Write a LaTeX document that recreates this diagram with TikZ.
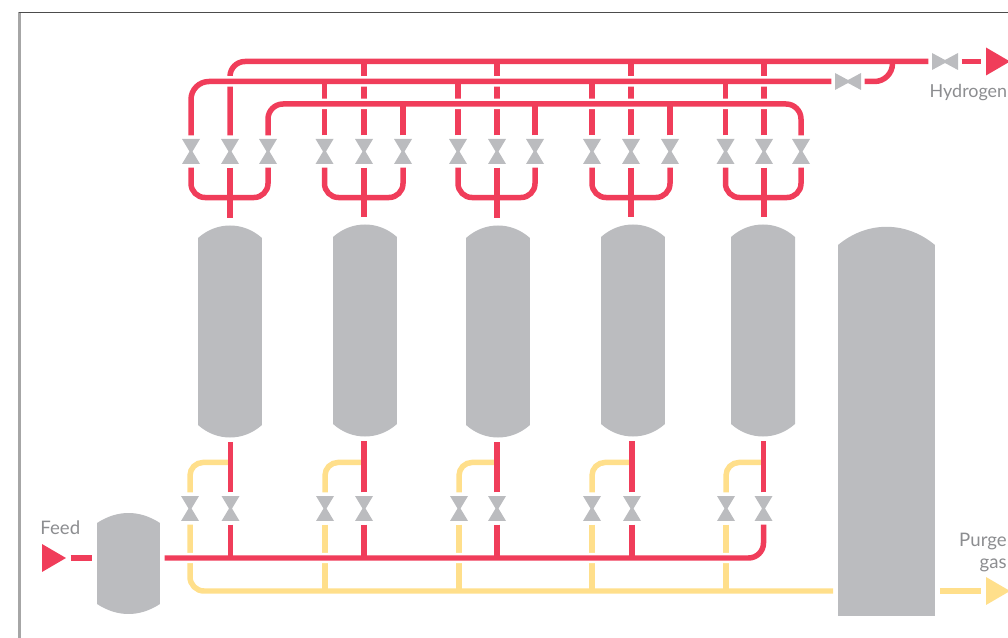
\documentclass[tikz,border=0pt]{standalone}
\usepackage{fontspec}
\setmainfont{Lato}
\usetikzlibrary{calc}
\definecolor{pipered}{HTML}{F03D5A}
\definecolor{pipeyellow}{HTML}{FFDF8B}
\definecolor{steel}{HTML}{BBBCBF}
\definecolor{labelgrey}{HTML}{8C8D90}
\tikzset{
  redpipe/.style={draw=pipered,line width=.11cm},
  yellowpipe/.style={draw=pipeyellow,line width=.11cm},
  halo/.style={preaction={draw=white,line width=.21cm}},
  stem/.style={redpipe,shorten >=1.7pt},
  valve/.style={minimum width=.36cm,minimum height=.5cm,inner sep=0pt,outer sep=2pt,
    path picture={\fill[steel] (path picture bounding box.north west) -- (path picture bounding box.north east)
      -- ($(path picture bounding box.center)+(.03cm,0)$) -- (path picture bounding box.south east)
      -- (path picture bounding box.south west) -- ($(path picture bounding box.center)+(-.03cm,0)$) -- cycle;}},
  hvalve/.style={minimum width=.52cm,minimum height=.34cm,inner sep=0pt,outer sep=2pt,
    path picture={\fill[steel] (path picture bounding box.north west) -- (path picture bounding box.south west)
      -- ($(path picture bounding box.center)+(0,-.03cm)$) -- (path picture bounding box.south east)
      -- (path picture bounding box.north east) -- ($(path picture bounding box.center)+(0,.03cm)$) -- cycle;}},
  vessel/.style={minimum width=1.28cm,minimum height=4.26cm,inner sep=0pt,outer sep=2.2pt,
    path picture={\fill[steel] ($(path picture bounding box.north west)+(0,-.26cm)$) to[bend left=42]
      ($(path picture bounding box.north east)+(0,-.26cm)$) -- ($(path picture bounding box.south east)+(0,.26cm)$) to[bend left=42]
      ($(path picture bounding box.south west)+(0,.26cm)$) -- cycle;}},
  drum/.style={minimum width=1.26cm,minimum height=2.02cm,inner sep=0pt,outer sep=2.6pt,
    path picture={\fill[steel] ($(path picture bounding box.north west)+(0,-.2cm)$) to[bend left=33]
      ($(path picture bounding box.north east)+(0,-.2cm)$) -- ($(path picture bounding box.south east)+(0,.2cm)$) to[bend left=33]
      ($(path picture bounding box.south west)+(0,.2cm)$) -- cycle;}},
  tower/.style={minimum width=1.94cm,minimum height=7.8cm,inner sep=0pt,outer sep=2.8pt,
    path picture={\fill[steel] ($(path picture bounding box.north west)+(0,-.38cm)$) to[bend left=40]
      ($(path picture bounding box.north east)+(0,-.38cm)$) -- (path picture bounding box.south east)
      -- (path picture bounding box.south west) -- cycle;}},
  flowtip/.style={minimum width=.48cm,minimum height=.56cm,inner sep=0pt,outer sep=2.6pt,
    path picture={\fill[#1] (path picture bounding box.north west) -- (path picture bounding box.east)
      -- (path picture bounding box.south west) -- cycle;}},
  streamlabel/.style={text=labelgrey,inner sep=0pt,font=\fontsize{10.6}{12.5}\selectfont}
}
\begin{document}
\begin{tikzpicture}[x=0.02cm,y=-0.02cm]
  \useasboundingbox (0,0) rectangle (1008,638);
  \draw[black!35,line width=.05cm] (19.5,638) -- (19.5,12);
  \draw[black!70,line width=.025cm] (18.5,12.5) -- (1008,12.5);

  \node[vessel] (ads1) at (230,331.5) {};
  \node[vessel] (ads2) at (365,330.5) {};
  \node[vessel] (ads3) at (498,331.5) {};
  \node[vessel] (ads4) at (633,330.5) {};
  \node[vessel] (ads5) at (763,330.5) {};
  \node[drum] (feeddrum) at (128.5,563.5) {};
  \node[tower] (tower) at (886.5,421) {};

  \node[valve] (tv11) at (191,151.5) {};
  \node[valve] (tv12) at (230,151.5) {};
  \node[valve] (tv13) at (268,151.5) {};
  \node[valve] (tv21) at (324.5,151.5) {};
  \node[valve] (tv22) at (364,151.5) {};
  \node[valve] (tv23) at (403,151.5) {};
  \node[valve] (tv31) at (458,151.5) {};
  \node[valve] (tv32) at (497,151.5) {};
  \node[valve] (tv33) at (535,151.5) {};
  \node[valve] (tv41) at (592,151.5) {};
  \node[valve] (tv42) at (631,151.5) {};
  \node[valve] (tv43) at (670,151.5) {};
  \node[valve] (tv51) at (725.5,151.5) {};
  \node[valve] (tv52) at (764,151.5) {};
  \node[valve] (tv53) at (801,151.5) {};

  \node[valve] (by1) at (190,508.5) {};
  \node[valve] (br1) at (230.5,508.5) {};
  \node[valve] (by2) at (325,508.5) {};
  \node[valve] (br2) at (364,508.5) {};
  \node[valve] (by3) at (459,508.5) {};
  \node[valve] (br3) at (497,508.5) {};
  \node[valve] (by4) at (592,508.5) {};
  \node[valve] (br4) at (632,508.5) {};
  \node[valve] (by5) at (726,508.5) {};
  \node[valve] (br5) at (763.5,508.5) {};

  \node[hvalve] (hv1) at (945,61.5) {};
  \node[hvalve] (hv2) at (848,81.5) {};
  \node[flowtip=pipered] (hydrotip) at (998,61.5) {};
  \node[flowtip=pipered] (feedtip) at (54,558) {};
  \node[flowtip=pipeyellow] (purgetip) at (998,591) {};
  \coordinate (hookend) at (892.5,61.5);
  \coordinate (midhead) at (600,104);

  \node[streamlabel,anchor=base east,font=\fontsize{10.2}{12.5}\selectfont] (hydrolabel) at (1007.5,97.5) {Hydrogen};
  \node[streamlabel,anchor=base west] (feedlabel) at (40,534.5) {Feed};
  \node[streamlabel,anchor=north east,align=right] (purgelabel) at (1007,533) {Purge\\gas};

  \draw[redpipe,rounded corners=.3cm] (tv12.north) |- (hv1.west);
  \draw[redpipe] (tv22.north) -- (tv22.north |- hv1.west);
  \draw[redpipe] (tv32.north) -- (tv32.north |- hv1.west);
  \draw[redpipe] (tv42.north) -- (tv42.north |- hv1.west);
  \draw[redpipe] (tv52.north) -- (tv52.north |- hv1.west);
  \draw[redpipe] (hv1.east) -- (hydrotip.west);

  \draw[redpipe,halo,rounded corners=.36cm] (tv11.north) |- (hv2.west);
  \draw[redpipe,rounded corners=.36cm] (hv2.east) -| (hookend);
  \draw[redpipe] (tv21.north) -- (tv21.north |- hv2.west);
  \draw[redpipe] (tv31.north) -- (tv31.north |- hv2.west);
  \draw[redpipe] (tv41.north) -- (tv41.north |- hv2.west);
  \draw[redpipe] (tv51.north) -- (tv51.north |- hv2.west);

  \draw[redpipe,halo,rounded corners=.3cm] (tv13.north) |- (midhead) -| (tv53.north);
  \draw[redpipe] (tv23.north) -- (tv23.north |- midhead);
  \draw[redpipe] (tv33.north) -- (tv33.north |- midhead);
  \draw[redpipe] (tv43.north) -- (tv43.north |- midhead);

  \draw[redpipe,rounded corners=.28cm] (tv11.south) -- ++(0,30) -| (tv13.south);
  \draw[redpipe,rounded corners=.28cm] (tv21.south) -- ++(0,30) -| (tv23.south);
  \draw[redpipe,rounded corners=.28cm] (tv31.south) -- ++(0,30) -| (tv33.south);
  \draw[redpipe,rounded corners=.28cm] (tv41.south) -- ++(0,30) -| (tv43.south);
  \draw[redpipe,rounded corners=.28cm] (tv51.south) -- ++(0,30) -| (tv53.south);
  \draw[stem] (tv12.south) -- (tv12.south |- ads1.north);
  \draw[stem] (tv22.south) -- (tv22.south |- ads2.north);
  \draw[stem] (tv32.south) -- (tv32.south |- ads3.north);
  \draw[stem] (tv42.south) -- (tv42.south |- ads4.north);
  \draw[stem] (tv52.south) -- (tv52.south |- ads5.north);

  \draw[yellowpipe,rounded corners=.26cm] (by1.north) |- ($(br1.north)+(0,-30)$);
  \draw[yellowpipe,rounded corners=.26cm] (by2.north) |- ($(br2.north)+(0,-30)$);
  \draw[yellowpipe,rounded corners=.26cm] (by3.north) |- ($(br3.north)+(0,-30)$);
  \draw[yellowpipe,rounded corners=.26cm] (by4.north) |- ($(br4.north)+(0,-30)$);
  \draw[yellowpipe,rounded corners=.26cm] (by5.north) |- ($(br5.north)+(0,-30)$);
  \draw[yellowpipe,rounded corners=.28cm] (by1.south) |- (tower.west |- purgetip.west);
  \draw[yellowpipe] (by2.south) -- (by2.south |- purgetip.west);
  \draw[yellowpipe] (by3.south) -- (by3.south |- purgetip.west);
  \draw[yellowpipe] (by4.south) -- (by4.south |- purgetip.west);
  \draw[yellowpipe] (by5.south) -- (by5.south |- purgetip.west);
  \draw[yellowpipe] (tower.east |- purgetip.west) -- (purgetip.west);

  \draw[redpipe] (feedtip.east) -- (feeddrum.west |- feedtip.east);
  \draw[redpipe,halo,rounded corners=.3cm] (feeddrum.east |- feedtip.east) -| (br5.south);
  \draw[redpipe] (br1.south) -- (br1.south |- feedtip.east);
  \draw[redpipe] (br2.south) -- (br2.south |- feedtip.east);
  \draw[redpipe] (br3.south) -- (br3.south |- feedtip.east);
  \draw[redpipe] (br4.south) -- (br4.south |- feedtip.east);
  \draw[redpipe] (br1.north) -- (br1.north |- ads1.south);
  \draw[redpipe] (br2.north) -- (br2.north |- ads2.south);
  \draw[redpipe] (br3.north) -- (br3.north |- ads3.south);
  \draw[redpipe] (br4.north) -- (br4.north |- ads4.south);
  \draw[redpipe] (br5.north) -- (br5.north |- ads5.south);
\end{tikzpicture}
\end{document}
